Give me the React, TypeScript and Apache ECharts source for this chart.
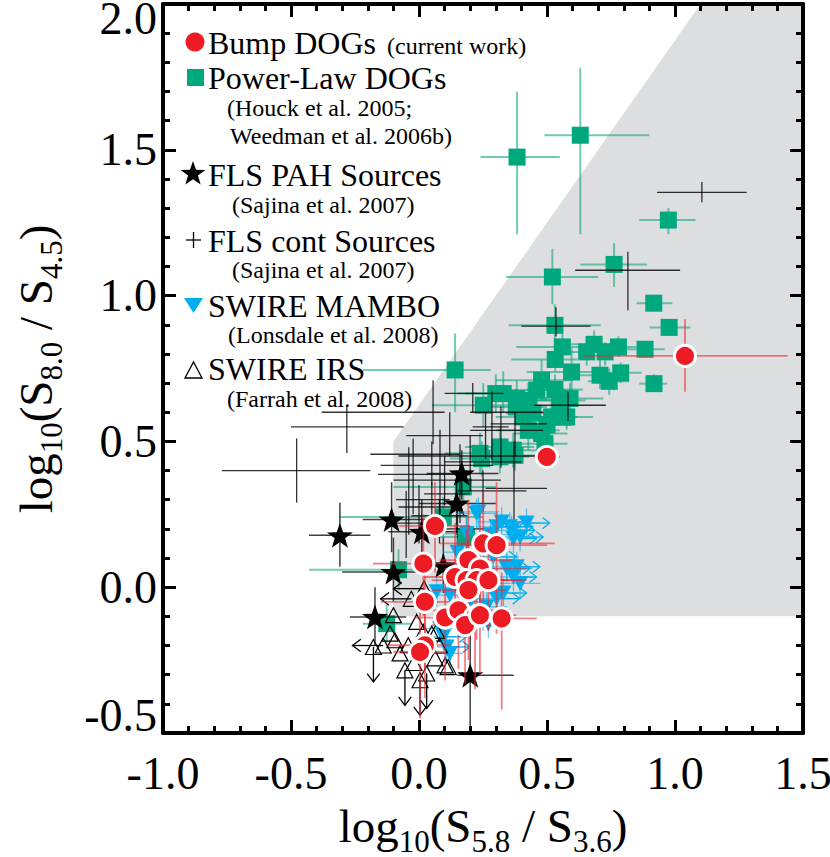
import React, { useEffect, useRef } from "react";
import * as echarts from "echarts";

const FONT = "Liberation Serif";

// axis ranges and tick labels
const xRange = [-1.0, 1.5];
const yRange = [-0.5, 2.0];
const tickStep = 0.5;

// shaded wedge (vertices in data units)
const wedgeX = [-0.1, -0.1, 1.1, 1.5, 1.5];
const wedgeY = [-0.1, 0.5, 2.0, 2.0, -0.1];

// [x, y, xlo, xhi, ylo, yhi]
const powerLawDogs = [
  [0.383, 1.475, 0.24, 0.55, 1.21, 1.7],
  [0.63, 1.55, 0.49, 0.9, 1.21, 1.78],
  [0.974, 1.259, 0.86, 1.08, 1.21, 1.3],
  [0.762, 1.107, 0.63, 0.89, 1.03, 1.18],
  [0.521, 1.064, 0.34, 0.7, 0.97, 1.16],
  [0.917, 0.974, 0.85, 0.99, 0.95, 1.0],
  [0.977, 0.891, 0.9, 1.06, 0.87, 0.91],
  [0.531, 0.898, 0.35, 0.71, 0.82, 0.97],
  [0.56, 0.824, 0.38, 0.66, 0.77, 0.87],
  [0.532, 0.781, 0.36, 0.62, 0.74, 0.83],
  [0.684, 0.833, 0.58, 0.8, 0.78, 0.88],
  [0.655, 0.807, 0.55, 0.75, 0.76, 0.85],
  [0.727, 0.807, 0.63, 0.81, 0.76, 0.84],
  [0.779, 0.824, 0.7, 0.85, 0.79, 0.86],
  [0.883, 0.816, 0.8, 0.96, 0.79, 0.84],
  [0.596, 0.738, 0.42, 0.72, 0.66, 0.82],
  [0.707, 0.727, 0.62, 0.8, 0.68, 0.78],
  [0.788, 0.735, 0.7, 0.87, 0.7, 0.77],
  [0.743, 0.706, 0.66, 0.82, 0.66, 0.75],
  [0.918, 0.698, 0.86, 0.97, 0.67, 0.73],
  [0.479, 0.71, 0.3, 0.6, 0.64, 0.78],
  [0.531, 0.678, 0.42, 0.64, 0.62, 0.73],
  [0.59, 0.647, 0.48, 0.72, 0.58, 0.7],
  [0.329, 0.664, 0.15, 0.45, 0.6, 0.74],
  [0.382, 0.647, 0.25, 0.5, 0.58, 0.71],
  [0.427, 0.641, 0.3, 0.55, 0.58, 0.7],
  [0.251, 0.624, 0.05, 0.36, 0.55, 0.7],
  [0.407, 0.584, 0.3, 0.52, 0.52, 0.65],
  [0.518, 0.584, 0.4, 0.62, 0.53, 0.64],
  [0.577, 0.584, 0.47, 0.68, 0.54, 0.63],
  [0.427, 0.538, 0.3, 0.55, 0.47, 0.6],
  [0.479, 0.527, 0.37, 0.58, 0.48, 0.58],
  [0.316, 0.481, 0.18, 0.45, 0.42, 0.55],
  [0.368, 0.47, 0.25, 0.48, 0.41, 0.53],
  [0.238, 0.459, 0.1, 0.35, 0.39, 0.53],
  [0.492, 0.492, 0.4, 0.58, 0.45, 0.54],
  [0.245, 0.441, 0.12, 0.36, 0.38, 0.5],
  [0.316, 0.447, 0.2, 0.43, 0.39, 0.51],
  [0.375, 0.452, 0.27, 0.48, 0.4, 0.5],
  [0.3, 0.664, 0.18, 0.42, 0.6, 0.73],
  [0.38, 0.618, 0.27, 0.5, 0.56, 0.68],
  [0.445, 0.597, 0.34, 0.55, 0.54, 0.66],
  [0.5, 0.556, 0.4, 0.6, 0.5, 0.61],
  [0.55, 0.64, 0.45, 0.65, 0.59, 0.69],
  [0.46, 0.676, 0.35, 0.57, 0.62, 0.73],
  [0.141, 0.745, -0.22, 0.28, 0.6, 0.87],
  [0.173, 0.344, -0.1, 0.3, 0.28, 0.41],
  [0.095, 0.241, -0.31, 0.25, 0.17, 0.31],
  [0.186, 0.172, 0.05, 0.3, 0.1, 0.24],
  [-0.08, 0.06, -0.43, 0.02, -0.01, 0.13],
  [-0.126, -0.125, -0.22, -0.03, -0.19, -0.06],
];

// [x, y, xlo, xhi, ylo, yhi]
const flsContSources = [
  [-0.282, 0.55, -0.5, -0.06, 0.46, 0.62],
  [-0.478, 0.4, -0.77, -0.19, 0.29, 0.51],
  [0.055, 0.6, -0.38, 0.1, 0.49, 0.71],
  [-0.023, 0.456, -0.19, 0.16, 0.25, 0.51],
  [-0.04, 0.387, -0.16, 0.2, 0.18, 0.48],
  [0.21, 0.665, 0.1, 0.33, 0.6, 0.7],
  [0.32, 0.56, 0.28, 0.5, 0.41, 0.62],
  [0.371, 0.339, 0.26, 0.5, 0.23, 0.5],
  [0.082, 0.45, -0.08, 0.5, 0.25, 0.54],
  [0.16, 0.32, 0.02, 0.2, 0.22, 0.49],
  [0.0, 0.3, -0.09, 0.12, 0.15, 0.35],
  [0.05, 0.275, -0.08, 0.15, 0.2, 0.36],
  [0.08, 0.245, -0.03, 0.19, 0.15, 0.3],
  [0.05, 0.418, -0.15, 0.29, 0.35, 0.5],
  [0.1, 0.367, -0.1, 0.32, 0.28, 0.45],
  [0.582, 0.624, 0.45, 0.73, 0.57, 0.67],
  [0.535, 0.895, 0.4, 0.67, 0.86, 0.96],
  [0.816, 1.087, 0.61, 1.02, 0.95, 1.15],
  [1.105, 1.354, 0.93, 1.28, 1.32, 1.39],
  [0.285, 0.6, 0.2, 0.485, 0.435, 0.67],
  [0.375, 0.538, 0.2, 0.485, 0.45, 0.6],
  [0.26, 0.55, 0.21, 0.35, 0.44, 0.6],
  [0.12, 0.52, -0.05, 0.25, 0.45, 0.6],
  [-0.05, 0.22, -0.12, 0.05, 0.1, 0.33],
  [0.2, 0.43, 0.1, 0.4, 0.33, 0.52],
  [0.15, 0.2, 0.05, 0.3, 0.1, 0.28],
  [0.25, 0.33, 0.15, 0.42, 0.26, 0.4],
];

// [x, y, xlo, xhi, ylo, yhi]
const flsPahSources = [
  [-0.309, 0.178, -0.43, -0.19, 0.07, 0.29],
  [-0.107, 0.232, -0.22, 0.03, 0.12, 0.36],
  [0.011, 0.19, -0.12, 0.15, 0.1, 0.3],
  [0.147, 0.287, 0.0, 0.3, 0.18, 0.4],
  [0.167, 0.39, 0.03, 0.31, 0.3, 0.47],
  [-0.1, 0.052, -0.3, 0.02, -0.05, 0.17],
  [-0.172, -0.102, -0.27, -0.05, -0.2, 0.0],
  [0.2, -0.302, 0.15, 0.37, -0.5, -0.12],
  [0.095, 0.075, -0.01, 0.2, -0.02, 0.17],
];

// [x, y, xerr, yerr, rightArrow]
const swireMambo = [
  [0.232, 0.258, 0.08, 0.05, 0],
  [0.186, 0.184, 0.1, 0.06, 0],
  [0.323, 0.224, 0.1, 0.05, 1],
  [0.355, 0.207, 0.08, 0.05, 1],
  [0.369, 0.167, 0.08, 0.05, 1],
  [0.29, 0.104, 0.1, 0.06, 1],
  [0.343, 0.064, 0.1, 0.05, 1],
  [0.369, 0.035, 0.08, 0.05, 1],
  [0.395, 0.013, 0.08, 0.05, 0],
  [0.069, -0.016, 0.06, 0.05, 0],
  [0.121, -0.027, 0.06, 0.05, 0],
  [0.303, -0.039, 0.08, 0.05, 1],
  [0.264, -0.067, 0.08, 0.05, 0],
  [0.082, -0.142, 0.05, 0.05, 0],
  [0.095, -0.17, 0.05, 0.05, 1],
  [0.108, -0.205, 0.05, 0.05, 1],
  [0.271, -0.125, 0.06, 0.05, 0],
  [0.121, -0.227, 0.05, 0.05, 0],
  [0.225, 0.253, 0.08, 0.05, 0],
  [0.303, 0.207, 0.08, 0.05, 1],
  [0.362, 0.195, 0.08, 0.05, 1],
  [0.395, 0.172, 0.06, 0.05, 1],
  [0.343, 0.07, 0.08, 0.05, 0],
  [0.382, 0.07, 0.06, 0.05, 1],
  [0.25, -0.1, 0.06, 0.05, 0],
  [0.2, -0.05, 0.06, 0.05, 0],
  [0.33, -0.02, 0.06, 0.05, 1],
  [0.15, 0.12, 0.06, 0.05, 0],
  [0.28, 0.18, 0.08, 0.05, 0],
  [0.42, 0.22, 0.06, 0.05, 1],
];

// [x, y, limit]  limit: 0 none, 1 upper limit in y (down arrow), 2 upper limit in x (left arrow)
const swireIrs = [
  [-0.1, -0.096, 0],
  [-0.113, -0.159, 0],
  [-0.094, -0.182, 0],
  [-0.178, -0.205, 1],
  [-0.009, -0.119, 0],
  [0.017, -0.153, 0],
  [-0.042, -0.199, 0],
  [-0.055, -0.285, 1],
  [0.004, -0.319, 1],
  [0.03, -0.296, 1],
  [0.05, -0.159, 0],
  [0.063, -0.244, 0],
  [0.102, -0.268, 0],
  [0.114, -0.274, 0],
  [0.069, -0.15, 0],
  [-0.074, -0.227, 0],
  [-0.14, -0.2, 2],
  [-0.03, -0.04, 2],
  [0.02, -0.005, 2],
  [-0.02, -0.26, 0],
  [0.08, -0.2, 0],
];

// [x, y, xlo, xhi, ylo, yhi]
const bumpDogs = [
  [0.0625, 0.21, -0.08, 0.2, 0.05, 0.36],
  [0.251, 0.15, 0.08, 0.53, -0.05, 0.33],
  [0.303, 0.144, 0.15, 0.5, -0.16, 0.36],
  [0.017, 0.081, -0.18, 0.2, -0.1, 0.25],
  [0.193, 0.093, 0.08, 0.36, -0.08, 0.3],
  [0.238, 0.064, 0.1, 0.42, -0.12, 0.25],
  [0.141, 0.035, 0.02, 0.3, -0.14, 0.22],
  [0.186, 0.024, 0.05, 0.35, -0.16, 0.2],
  [0.225, 0.024, 0.1, 0.4, -0.18, 0.18],
  [0.271, 0.024, 0.13, 0.42, -0.15, 0.2],
  [0.193, -0.01, 0.05, 0.34, -0.25, 0.15],
  [0.023, -0.05, -0.15, 0.15, -0.28, 0.12],
  [0.102, -0.104, -0.02, 0.26, -0.32, 0.05],
  [0.154, -0.079, 0.02, 0.3, -0.28, 0.08],
  [0.219, -0.102, 0.08, 0.36, -0.35, 0.05],
  [0.18, -0.13, 0.05, 0.32, -0.33, 0.02],
  [0.323, -0.107, 0.18, 0.46, -0.42, 0.05],
  [0.238, -0.096, 0.12, 0.38, -0.3, 0.06],
  [0.023, -0.199, -0.12, 0.12, -0.38, -0.05],
  [0.004, -0.222, -0.1, 0.1, -0.45, -0.08],
  [0.499, 0.447, 0.45, 0.55, 0.42, 0.47],
  [1.039, 0.793, 0.64, 1.44, 0.67, 0.92],
];

const RED = "#ed1c24";
const GREEN = "#00a87e";
const BLUE = "#00aeef";
const GRAY = "#dddee0";

function starPoints(cx: number, cy: number, r: number): number[][] {
  const pts: number[][] = [];
  for (let i = 0; i < 10; i++) {
    const rr = i % 2 ? r * 0.4 : r;
    const a = -Math.PI / 2 + (i * Math.PI) / 5;
    pts.push([cx + rr * Math.cos(a), cy + rr * Math.sin(a)]);
  }
  return pts;
}
const STAR_PATH =
  "path://" +
  starPoints(0, 0, 10)
    .map((p, i) => (i ? "L" : "M") + p[0].toFixed(3) + " " + p[1].toFixed(3))
    .join(" ") +
  " Z";

function errorSeries(data: number[][], color: string, width: number, z: number, sym = false) {
  return {
    type: "custom",
    z,
    silent: true,
    data,
    encode: { x: 0, y: 1 },
    renderItem: (params: any, api: any) => {
      const x = api.value(0);
      const y = api.value(1);
      let xlo, xhi, ylo, yhi;
      if (sym) {
        xlo = x - api.value(2);
        xhi = x + api.value(2);
        ylo = y - api.value(3);
        yhi = y + api.value(3);
      } else {
        xlo = api.value(2);
        xhi = api.value(3);
        ylo = api.value(4);
        yhi = api.value(5);
      }
      const l = api.coord([xlo, y]);
      const r = api.coord([xhi, y]);
      const b = api.coord([x, ylo]);
      const t = api.coord([x, yhi]);
      const style = { stroke: color, lineWidth: width, fill: null };
      return {
        type: "group",
        children: [
          { type: "line", shape: { x1: l[0], y1: l[1], x2: r[0], y2: r[1] }, style },
          { type: "line", shape: { x1: b[0], y1: b[1], x2: t[0], y2: t[1] }, style },
        ],
      };
    },
  };
}

function arrowSeries(data: number[][], color: string, z: number, kind: "mambo" | "irs") {
  return {
    type: "custom",
    z,
    silent: true,
    data,
    encode: { x: 0, y: 1 },
    renderItem: (params: any, api: any) => {
      const x = api.value(0);
      const y = api.value(1);
      const flag = kind === "mambo" ? api.value(4) : api.value(2);
      if (!flag) return null;
      const c = api.coord([x, y]);
      let e: number[];
      let head: number[][];
      const h = 7;
      if (kind === "mambo") {
        e = api.coord([x + 0.09, y]);
        head = [[e[0] - h, e[1] - h * 0.8], [e[0], e[1]], [e[0] - h, e[1] + h * 0.8]];
      } else if (flag === 1) {
        e = api.coord([x, y - 0.12]);
        head = [[e[0] - h * 0.9, e[1] - h * 1.2], [e[0], e[1]], [e[0] + h * 0.9, e[1] - h * 1.2]];
      } else {
        e = api.coord([x - 0.12, y]);
        head = [[e[0] + h * 1.2, e[1] - h * 0.9], [e[0], e[1]], [e[0] + h * 1.2, e[1] + h * 0.9]];
      }
      const style = { stroke: color, lineWidth: 1.3, fill: null };
      return {
        type: "group",
        children: [
          { type: "line", shape: { x1: c[0], y1: c[1], x2: e[0], y2: e[1] }, style },
          { type: "polyline", shape: { points: head }, style },
        ],
      };
    },
  };
}

const tickFmt = (v: number) => v.toFixed(1);

function makeX(position: "bottom" | "top", labels: boolean) {
  return {
    type: "value",
    position,
    min: xRange[0],
    max: xRange[1],
    interval: tickStep,
    z: 50,
    axisLine: { show: true, onZero: false, lineStyle: { color: "#000", width: 4 } },
    axisTick: { show: true, inside: true, length: 13, lineStyle: { color: "#000", width: 3 } },
    minorTick: { show: true, splitNumber: 5, length: 7, lineStyle: { color: "#000", width: 3 } },
    splitLine: { show: false },
    minorSplitLine: { show: false },
    axisLabel: {
      show: labels,
      formatter: tickFmt,
      fontFamily: FONT,
      fontSize: 46,
      color: "#000",
      margin: 17,
      showMinLabel: true,
      showMaxLabel: true,
      hideOverlap: false,
    },
  };
}

function makeY(position: "left" | "right", labels: boolean) {
  const base = { fontFamily: FONT, fontSize: 46, color: "#000" };
  return {
    type: "value",
    position,
    min: yRange[0],
    max: yRange[1],
    interval: tickStep,
    z: 50,
    axisLine: { show: true, onZero: false, lineStyle: { color: "#000", width: 4 } },
    axisTick: { show: true, inside: true, length: 13, lineStyle: { color: "#000", width: 3 } },
    minorTick: { show: true, splitNumber: 5, length: 7, lineStyle: { color: "#000", width: 3 } },
    splitLine: { show: false },
    minorSplitLine: { show: false },
    axisLabel: {
      show: labels,
      margin: 6,
      showMinLabel: true,
      showMaxLabel: true,
      hideOverlap: false,
      formatter: (v: number) => {
        const s = tickFmt(v);
        if (v >= yRange[1] - 1e-9) return "{t|" + s + "}";
        if (v <= yRange[0] + 1e-9) return "{b|" + s + "}";
        return "{n|" + s + "}";
      },
      rich: {
        n: { ...base },
        t: { ...base, padding: [28, 0, 0, 0] },
        b: { ...base, padding: [0, 0, 36, 0] },
      },
      ...base,
    },
  };
}

function legendGraphics() {
  const g: any[] = [];
  const mainText = (text: string, x: number, y: number) => ({
    type: "text",
    z: 100,
    x,
    y,
    style: { text, fontFamily: FONT, fontSize: 32, fill: "#000", align: "left", verticalAlign: "middle" },
  });
  const subText = (text: string, x: number, y: number) => ({
    type: "text",
    z: 100,
    x,
    y,
    style: { text, fontFamily: FONT, fontSize: 24, fill: "#000", align: "left", verticalAlign: "middle" },
  });
  g.push({ type: "circle", z: 100, shape: { cx: 195, cy: 42, r: 9.5 }, style: { fill: RED } });
  g.push(mainText("Bump DOGs", 208, 43));
  g.push(subText("(current work)", 387, 46));
  g.push({ type: "rect", z: 100, shape: { x: 187, y: 69, width: 17, height: 17 }, style: { fill: GREEN } });
  g.push(mainText("Power-Law DOGs", 208, 78));
  g.push(subText("(Houck et al. 2005;", 227, 108));
  g.push(subText("Weedman et al. 2006b)", 230, 136));
  g.push({ type: "polygon", z: 100, shape: { points: starPoints(193, 174, 13) }, style: { fill: "#000" } });
  g.push(mainText("FLS PAH Sources", 208, 175));
  g.push(subText("(Sajina et al. 2007)", 232, 205));
  g.push({ type: "line", z: 100, shape: { x1: 186, y1: 240, x2: 201, y2: 240 }, style: { stroke: "#000", lineWidth: 1.3 } });
  g.push({ type: "line", z: 100, shape: { x1: 193.5, y1: 232, x2: 193.5, y2: 248 }, style: { stroke: "#000", lineWidth: 1.3 } });
  g.push(mainText("FLS cont Sources", 208, 241));
  g.push(subText("(Sajina et al. 2007)", 232, 270));
  g.push({ type: "polygon", z: 100, shape: { points: [[184, 298], [203, 298], [193.5, 313]] }, style: { fill: BLUE } });
  g.push(mainText("SWIRE MAMBO", 208, 306));
  g.push(subText("(Lonsdale et al. 2008)", 228, 335));
  g.push({ type: "polygon", z: 100, shape: { points: [[185, 378], [202, 378], [193.5, 362]] }, style: { fill: "none", stroke: "#000", lineWidth: 1.3 } });
  g.push(mainText("SWIRE IRS", 208, 369));
  g.push(subText("(Farrah et al. 2008)", 227, 399));
  return g;
}

function titleGraphics() {
  const main = { fontFamily: FONT, fontSize: 47, fill: "#000" };
  const sub = { fontFamily: FONT, fontSize: 31, fill: "#000", padding: [30, 0, 0, 0] };
  return [
    {
      type: "text",
      z: 100,
      x: 483,
      y: 826,
      style: {
        text: "{a|log}{s|10}{a|(S}{s|5.8}{a| / S}{s|3.6}{a|)}",
        rich: { a: main, s: sub },
        align: "center",
        verticalAlign: "middle",
      },
    },
    {
      type: "text",
      z: 100,
      x: 36,
      y: 369,
      rotation: Math.PI / 2,
      style: {
        text: "{a|log}{s|10}{a|(S}{s|8.0}{a| / S}{s|4.5}{a|)}",
        rich: { a: main, s: sub },
        align: "center",
        verticalAlign: "middle",
      },
    },
  ];
}

function buildOption() {
  return {
    animation: false,
    backgroundColor: "#fff",
    grid: { left: 163, right: 27, top: 4, bottom: 124, containLabel: false, outerBoundsMode: "none" },
    xAxis: [makeX("bottom", true), makeX("top", false)],
    yAxis: [makeY("left", true), makeY("right", false)],
    series: [
      {
        type: "custom",
        z: 1,
        silent: true,
        data: wedgeX.map((x, i) => [x, wedgeY[i]]),
        encode: { x: 0, y: 1 },
        renderItem: (params: any, api: any) => {
          if (params.dataIndex !== 0) return null;
          const pts = wedgeX.map((x, i) => api.coord([x, wedgeY[i]]));
          return { type: "polygon", shape: { points: pts }, style: { fill: GRAY } };
        },
      },
      errorSeries(powerLawDogs, "rgba(0,160,120,0.55)", 2, 2),
      {
        type: "scatter",
        z: 3,
        silent: true,
        symbol: "rect",
        symbolSize: 17,
        itemStyle: { color: GREEN, opacity: 1 },
        data: powerLawDogs.map((d) => [d[0], d[1]]),
      },
      errorSeries(flsContSources, "rgba(0,0,0,0.8)", 1.3, 4),
      errorSeries(flsPahSources, "rgba(0,0,0,0.75)", 1.5, 5),
      {
        type: "scatter",
        z: 6,
        silent: true,
        symbol: STAR_PATH,
        symbolKeepAspect: true,
        symbolSize: 26,
        itemStyle: { color: "#000", opacity: 1 },
        data: flsPahSources.map((d) => [d[0], d[1]]),
      },
      errorSeries(swireMambo, "rgba(0,174,239,0.6)", 1.3, 7, true),
      {
        type: "scatter",
        z: 8,
        silent: true,
        symbol: "triangle",
        symbolRotate: 180,
        symbolSize: [16, 15],
        itemStyle: { color: BLUE, opacity: 1 },
        data: swireMambo.map((d) => [d[0], d[1]]),
      },
      arrowSeries(swireMambo, BLUE, 8, "mambo"),
      {
        type: "scatter",
        z: 9,
        silent: true,
        symbol: "triangle",
        symbolSize: [16, 15],
        itemStyle: { color: "rgba(0,0,0,0)", borderColor: "#000", borderWidth: 1.2, opacity: 1 },
        data: swireIrs.map((d) => [d[0], d[1]]),
      },
      arrowSeries(swireIrs, "#000", 9, "irs"),
      errorSeries(bumpDogs, "rgba(236,40,50,0.6)", 1.8, 10),
      {
        type: "scatter",
        z: 11,
        silent: true,
        symbol: "circle",
        symbolSize: 21,
        itemStyle: { color: RED, borderColor: "#fff", borderWidth: 3, opacity: 1 },
        data: bumpDogs.map((d) => [d[0], d[1]]),
      },
    ],
    graphic: [...legendGraphics(), ...titleGraphics()],
  };
}

export default function App() {
  const ref = useRef<HTMLDivElement>(null);
  useEffect(() => {
    if (!ref.current) return;
    const chart = echarts.init(ref.current, null, { renderer: "svg" });
    chart.setOption(buildOption() as any);
    return () => chart.dispose();
  }, []);
  return (
    <div
      ref={ref}
      style={{ position: "fixed", left: 0, top: 0, width: 830, height: 857, background: "#fff" }}
    />
  );
}
